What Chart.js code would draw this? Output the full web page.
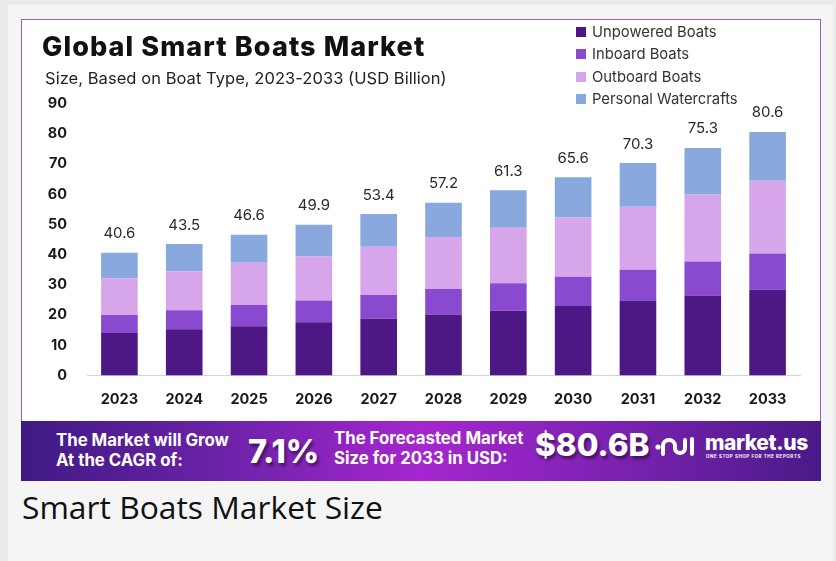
<!DOCTYPE html>
<html>
<head>
<meta charset="utf-8">
<script src="https://cdn.jsdelivr.net/npm/chart.js@4.4.1/dist/chart.umd.min.js"></script>
<style>
  html, body { margin: 0; padding: 0; }
  body { width: 836px; height: 561px; overflow: hidden; background: #ebebeb; position: relative; font-family: Inter, "Noto Sans", sans-serif; }
  .abs { position: absolute; white-space: nowrap; }
  #panel { left: 8px; top: 5px; width: 825px; height: 560px; background: #f5f5f5; }
  #card { left: 21px; top: 19px; width: 800px; height: 462px; background: #fff; border: 1px solid #9b5cc4; box-sizing: border-box; }
  #chartBox { left: 21px; top: 19px; width: 800px; height: 402px; }
  #title { left: 42px; top: 32.5px; font-size: 27px; line-height: 27px; font-weight: 800; color: #111; letter-spacing: 1.1px; }
  #subtitle { left: 45px; top: 69.5px; font-size: 16.5px; line-height: 16.5px; color: #222; letter-spacing: 0.05px; }
  #legend { left: 576px; top: 22px; }
  .lg-row { position: absolute; left: 0; height: 20px; white-space: nowrap; font-size: 14.8px; line-height: 20px; color: #333; }
  .lg-box { display: inline-block; width: 10px; height: 10px; vertical-align: middle; margin-right: 6px; position: relative; top: -1px; }
  #banner { left: 21px; top: 421px; width: 800px; height: 60px;
    background: linear-gradient(90deg, #3f1a84 0%, #6b22a8 25%, #a626cf 50%, #7a22b0 75%, #4a1a88 100%); }
  .bn-small { font-size: 16.8px; line-height: 19.5px; font-weight: 700; color: #fff; }
  .bn-big { font-weight: 800; color: #fff; text-shadow: 2px 3px 3px rgba(0,0,0,0.45); }
  #caption { left: 22px; top: 491px; font-family: "Open Sans", sans-serif; font-size: 31.8px; line-height: 31.8px; color: #111; }
</style>
</head>
<body>
<div id="panel" class="abs"></div>
<div id="card" class="abs"></div>
<div id="chartBox" class="abs"><canvas id="boatsChart"></canvas></div>
<div id="title" class="abs">Global Smart Boats Market</div>
<div id="subtitle" class="abs">Size, Based on Boat Type, 2023-2033 (USD Billion)</div>
<div id="legend" class="abs"></div>

<div id="banner" class="abs"></div>
<div class="abs bn-small" style="left:56px; top:431px;">The Market will Grow<br>At the CAGR of:</div>
<div class="abs bn-big" style="left:248px; top:435px; font-size:32.5px; line-height:33px;">7.1%</div>
<div class="abs bn-small" style="left:334px; top:429px;">The Forecasted Market<br>Size for 2033 in USD:</div>
<div class="abs bn-big" style="left:535px; top:429px; font-size:31.5px; line-height:32px;">$80.6B</div>
<svg class="abs" style="left:654px; top:434px;" width="46" height="24" viewBox="0 0 46 24">
  <circle cx="4" cy="13" r="2.6" fill="#fff"/>
  <path d="M9 20 V12 A6 6 0 0 1 21 12 V14 A5 5 0 0 0 31 14 V6" fill="none" stroke="#fff" stroke-width="4" stroke-linecap="round"/>
  <path d="M38 5 V20" fill="none" stroke="#fff" stroke-width="4" stroke-linecap="round"/>
</svg>
<div class="abs" style="left:705px; top:432px; font-size:21px; line-height:21px; font-weight:800; color:#fff; letter-spacing:-0.4px;">market.us</div>
<div class="abs" style="left:706px; top:454px; font-size:4.5px; line-height:5px; font-weight:700; color:#fff; letter-spacing:0.55px;">ONE STOP SHOP FOR THE REPORTS</div>

<div id="caption" class="abs">Smart Boats Market Size</div>

<script>
// valores (USD Billion)
const years = ['2023', '2024', '2025', '2026', '2027', '2028', '2029', '2030', '2031', '2032', '2033'];
const unpoweredBoats = [14.1, 15.3, 16.3, 17.6, 18.8, 20.2, 21.4, 23.0, 24.8, 26.5, 28.4];
const inboardBoats = [5.9, 6.3, 7.0, 7.2, 7.8, 8.4, 9.1, 9.7, 10.2, 11.2, 12.0];
const outboardBoats = [12.2, 12.9, 14.0, 14.6, 16.0, 17.2, 18.4, 19.6, 20.8, 22.2, 24.0];
const personalWatercrafts = [8.4, 9.0, 9.3, 10.5, 10.8, 11.4, 12.4, 13.3, 14.5, 15.4, 16.2];
const totals = [40.6, 43.5, 46.6, 49.9, 53.4, 57.2, 61.3, 65.6, 70.3, 75.3, 80.6];
const yTicks = [0, 10, 20, 30, 40, 50, 60, 70, 80, 90];

const seriesNames = ['Unpowered Boats', 'Inboard Boats', 'Outboard Boats', 'Personal Watercrafts'];
const seriesColors = ['#4e1786', '#8a4ad0', '#d6a5ea', '#88a8de'];
const seriesData = [unpoweredBoats, inboardBoats, outboardBoats, personalWatercrafts];

Chart.defaults.font.family = 'Inter, "Noto Sans", sans-serif';

// etiqueta con el total encima de cada barra
const totalLabels = {
    id: 'totalLabels',
    afterDatasetsDraw(chart) {
        const ctx = chart.ctx;
        const topMeta = chart.getDatasetMeta(chart.data.datasets.length - 1);
        ctx.save();
        ctx.font = '15px Inter, "Noto Sans", sans-serif';
        ctx.fillStyle = '#2a2a2a';
        ctx.textAlign = 'center';
        ctx.textBaseline = 'middle';
        topMeta.data.forEach((bar, i) => {
            ctx.fillText(totals[i].toFixed(1), bar.x, bar.y - 19);
        });
        ctx.restore();
    }
};

const ctx = document.getElementById('boatsChart').getContext('2d');
const boatsChart = new Chart(ctx, {
    type: 'bar',
    data: {
        labels: years,
        datasets: seriesData.map((data, i) => ({
            label: seriesNames[i],
            data: data,
            backgroundColor: seriesColors[i],
            borderWidth: 0,
            categoryPercentage: 1,
            barPercentage: 0.565
        }))
    },
    options: {
        responsive: true,
        maintainAspectRatio: false,
        animation: false,
        layout: { padding: { left: 0, right: 21, top: 84.5, bottom: 0 } },
        plugins: {
            legend: { display: false },
            tooltip: { enabled: false },
            title: { display: false }
        },
        scales: {
            x: {
                stacked: true,
                grid: { display: false, drawTicks: false },
                border: { display: true, color: '#d4d4d4', width: 1 },
                ticks: { color: '#1a1a1a', padding: 15, font: { size: 14.5, weight: 'bold' } },
                afterFit: (scale) => { scale.height = 45.5; }
            },
            y: {
                stacked: true,
                min: 0,
                max: 90,
                afterBuildTicks: (scale) => { scale.ticks = yTicks.map(v => ({ value: v })); },
                grid: { display: false, drawTicks: false },
                border: { display: false },
                ticks: { color: '#1a1a1a', padding: 20, font: { size: 14.5, weight: 'bold' } },
                afterFit: (scale) => { scale.width = 66; }
            }
        }
    },
    plugins: [totalLabels]
});

// leyenda en html a partir de los datasets
const legendEl = document.getElementById('legend');
boatsChart.data.datasets.forEach((ds, i) => {
    const row = document.createElement('div');
    row.className = 'lg-row';
    row.style.top = (i * 22.4) + 'px';
    row.innerHTML = `<span class="lg-box" style="background:${ds.backgroundColor}"></span>${ds.label}`;
    legendEl.appendChild(row);
});
</script>
</body>
</html>
